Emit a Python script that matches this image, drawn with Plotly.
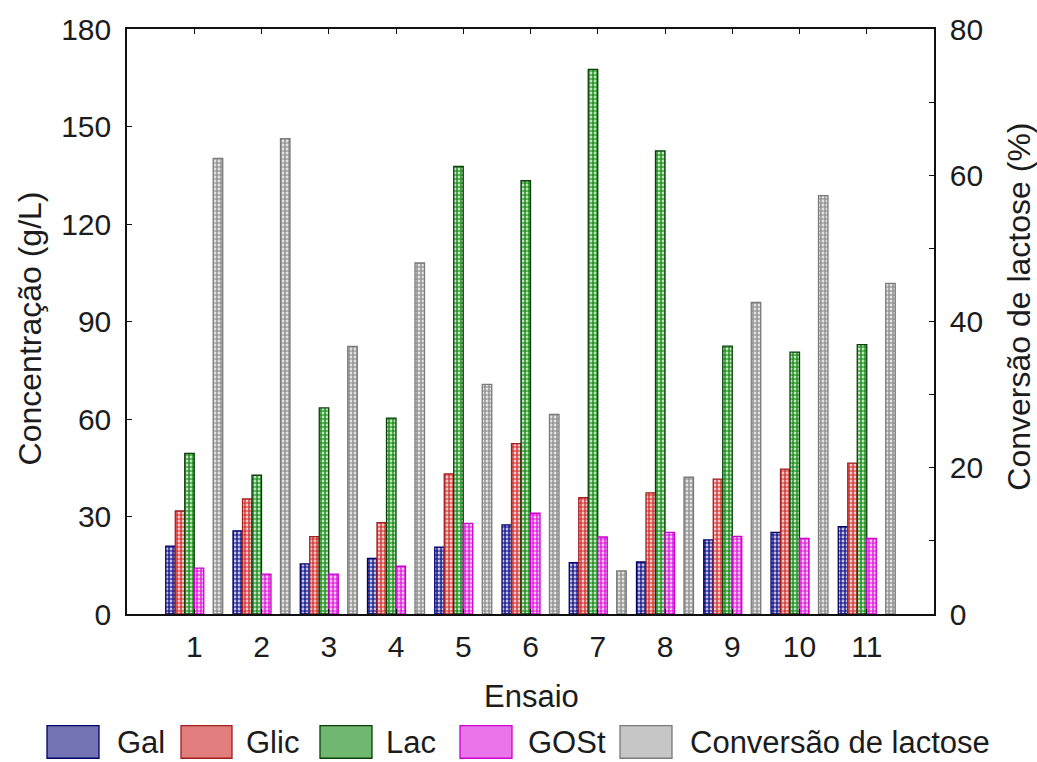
import plotly.graph_objects as go

# ---------------- data ----------------
ensaios = [1, 2, 3, 4, 5, 6, 7, 8, 9, 10, 11]
gal = [20.9, 25.6, 15.4, 17.1, 20.6, 27.4, 15.8, 16.0, 22.8, 25.1, 26.9]
glic = [31.7, 35.4, 23.8, 28.1, 43.1, 52.4, 35.8, 37.3, 41.5, 44.6, 46.4]
lac = [49.4, 42.7, 63.4, 60.3, 137.7, 133.3, 167.6, 142.5, 82.4, 80.6, 82.9]
gost = [14.1, 12.3, 12.3, 14.7, 27.9, 31.0, 23.7, 25.1, 23.9, 23.3, 23.3]
conversao = [62.3, 65.0, 36.6, 48.0, 31.4, 27.3, 5.9, 18.7, 42.6, 57.2, 45.2]

left_ticks = [0, 30, 60, 90, 120, 150, 180]
right_ticks = [0, 20, 40, 60, 80]

labels = ["Gal", "Glic", "Lac", "GOSt", "Conversão de lactose"]

# ---------------- styles ----------------
FONT = "Arial, 'Liberation Sans', sans-serif"
TXT = "#1c1c1c"
W, H = 1037, 762
L, R, T, B = 127, 934, 22, 614  # plot area in px

styles = [
    # fg colour, border colour, legend fill, slot index, axis
    dict(fg="#2a2a96", line="#000066", leg="#7474b4", slot=0, axis="y"),
    dict(fg="#d84444", line="#a01e1e", leg="#e27d7d", slot=1, axis="y"),
    dict(fg="#2a962a", line="#0a3f0a", leg="#70b870", slot=2, axis="y"),
    dict(fg="#e030e0", line="#cc00cc", leg="#ea74ea", slot=3, axis="y"),
    dict(fg="#989898", line="#7a7a7a", leg="#c6c6c6", slot=5, axis="y2"),
]
series = [gal, glic, lac, gost, conversao]
slot_w = 0.1412

fig = go.Figure()
for name, vals, st in zip(labels, series, styles):
    fig.add_trace(go.Bar(
        x=ensaios, y=vals, name=name, yaxis=st["axis"],
        width=slot_w, offset=(st["slot"] - 3) * slot_w,
        marker=dict(
            color="white",
            pattern=dict(shape=".", fgcolor=st["fg"], bgcolor="white",
                         size=4, solidity=0.7, fillmode="replace"),
            line=dict(color=st["line"], width=1.3),
        ),
        showlegend=False,
    ))

axis_common = dict(showgrid=False, zeroline=False, showline=True,
                   linecolor="#111111", linewidth=1.5, ticks="inside",
                   ticklen=5, tickwidth=1.2, tickcolor="#111111",
                   tickfont=dict(size=30, color=TXT, family=FONT))

fig.update_layout(
    width=W, height=H,
    margin=dict(l=L, r=W - R, t=T, b=H - B),
    paper_bgcolor="white", plot_bgcolor="white",
    barmode="overlay",
    font=dict(family=FONT, size=30, color=TXT),
    showlegend=False,
    xaxis=dict(range=[0, 12], tickvals=ensaios, mirror="ticks",
               ticklabelstandoff=5, **axis_common),
    yaxis=dict(range=[0, 180], tickvals=left_ticks,
               ticklabelstandoff=8, **axis_common),
    yaxis2=dict(range=[0, 80], tickvals=right_ticks, overlaying="y",
                side="right", ticklabelstandoff=8,
                minor=dict(dtick=10, ticks="inside", ticklen=5,
                           tickcolor="#111111", tickwidth=1.2),
                **axis_common),
)


def px_x(px):
    return (px - L) / (R - L)


def px_y(py):
    return (B - py) / (B - T)


# axis titles
fig.add_annotation(text="Ensaio", x=px_x(531), y=px_y(697), xref="paper",
                   yref="paper", showarrow=False, xanchor="center",
                   yanchor="middle", font=dict(size=31, color=TXT))
fig.add_annotation(text="Concentração (g/L)", x=px_x(30), y=px_y(325),
                   xref="paper", yref="paper", showarrow=False, textangle=-90,
                   xanchor="center", yanchor="middle",
                   font=dict(size=32, color=TXT))
fig.add_annotation(text="Conversão de lactose (%)", x=px_x(1019),
                   y=px_y(303), xref="paper", yref="paper", showarrow=False,
                   textangle=-90, xanchor="center", yanchor="middle",
                   font=dict(size=32, color=TXT))

# custom legend (large swatches like the original)
box_x = [(47, 99), (181, 232), (320, 372), (460, 512), (620, 672)]
text_x = [115, 244, 384, 526, 688]
box_y = (727, 760)
for lab, st, (x0, x1), tx in zip(labels, styles, box_x, text_x):
    fig.add_shape(type="rect", xref="paper", yref="paper",
                  x0=px_x(x0), x1=px_x(x1), y0=px_y(box_y[1]),
                  y1=px_y(box_y[0]), fillcolor=st["leg"],
                  line=dict(color=st["line"], width=1.3))
    fig.add_annotation(text=lab, x=px_x(tx), y=px_y(744), xref="paper",
                       yref="paper", showarrow=False, xanchor="left",
                       yanchor="middle", font=dict(size=31, color=TXT))

fig.write_html("out.html")
